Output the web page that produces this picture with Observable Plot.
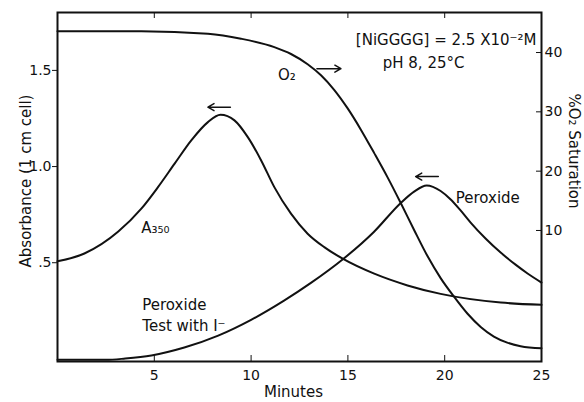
<!DOCTYPE html>
<html><head><meta charset="utf-8">
<script src="https://cdn.jsdelivr.net/npm/d3@7"></script>
<script src="https://cdn.jsdelivr.net/npm/@observablehq/plot@0.6"></script>
<style>body{margin:0;background:#fff}</style>
</head><body><div id="chart"></div>
<script>
// A350 absorbance (left axis)
const a350Minutes = [0, 1.39, 3.14, 4.33, 5.19, 6.05, 6.91, 7.77, 8.42, 9.14, 9.83, 10.52, 11.2, 12.06, 12.92, 13.78, 14.73, 16.36, 18.08, 19.79, 22.9, 25];
const a350Absorbance = [0.508, 0.548, 0.662, 0.781, 0.893, 1.015, 1.136, 1.231, 1.269, 1.240, 1.153, 1.032, 0.893, 0.755, 0.651, 0.581, 0.521, 0.443, 0.382, 0.338, 0.293, 0.281];
// Peroxide test with I- (left axis units)
const peroxideMinutes = [0, 2.5, 3.5, 4.85, 6.55, 8.3, 10.0, 11.7, 13.09, 14.74, 16.34, 17.73, 18.42, 19.07, 19.79, 20.31, 20.82, 21.34, 22.11, 22.89, 23.66, 24.28, 25];
const peroxideValue = [-0.005, -0.005, 0.002, 0.018, 0.059, 0.121, 0.203, 0.303, 0.395, 0.518, 0.660, 0.811, 0.870, 0.902, 0.873, 0.829, 0.772, 0.709, 0.626, 0.553, 0.490, 0.444, 0.397];
// O2 saturation (right axis, %)
const o2Minutes = [0, 4.33, 7.77, 9.48, 11.2, 12.06, 12.92, 13.61, 14.29, 14.98, 15.67, 16.36, 17.05, 17.73, 18.42, 19.11, 19.79, 20.48, 21.17, 21.86, 22.54, 23.23, 23.92, 25];
const o2Percent = [43.6, 43.6, 43.17, 42.33, 40.91, 39.75, 38.03, 36.17, 33.72, 30.62, 27.0, 23.04, 18.95, 14.62, 10.08, 5.68, 1.97, -1.16, -4.0, -6.26, -7.88, -8.9, -9.5, -9.86];

const minuteTicks = [5, 10, 15, 20, 25];
const absTicks = [0.5, 1.0, 1.5];
const absTickLabels = [".5", "1.0", "1.5"];
const o2Ticks = [10, 20, 30, 40];

// annotations (data coordinates)
const labels = [
  {x: 11.39, y: 1.487, text: "O₂"},
  {x: 4.33, y: 0.689, text: "A₃₅₀"},
  {x: 4.38, y: 0.236, text: "Peroxide\nTest with I⁻"},
  {x: 20.57, y: 0.845, text: "Peroxide"},
  {x: 15.41, y: 1.666, text: "[NiGGGG] = 2.5 X10⁻²M"},
  {x: 16.8, y: 1.55, text: "pH 8, 25°C"}
];
const arrows = [
  {x1: 8.93, x2: 7.77, y: 1.309},
  {x1: 13.4, x2: 14.64, y: 1.509},
  {x1: 19.67, x2: 18.5, y: 0.948}
];

// map % O2 onto the absorbance scale (right axis)
const toAbs = p => 0.3593 + 0.03084 * p;
const fromAbs = a => Math.round((a - 0.3593) / 0.03084);

const a350 = a350Minutes.map((t, i) => ({t, v: a350Absorbance[i]}));
const perox = peroxideMinutes.map((t, i) => ({t, v: peroxideValue[i]}));
const o2 = o2Minutes.map((t, i) => ({t, v: toAbs(o2Percent[i])}));

const font = "DejaVu Sans, sans-serif";
const ink = "#111";
const chart = Plot.plot({
  width: 584, height: 402,
  marginLeft: 57, marginRight: 43, marginTop: 12, marginBottom: 41,
  x: {domain: [0, 25]},
  y: {domain: [-0.0135, 1.801]},
  style: {fontFamily: font, fontSize: "14px", background: "#fff", color: ink},
  marks: [
    Plot.axisX(minuteTicks, {anchor: "bottom", tickSize: -6, tickPadding: 15, label: null, fontSize: 14}),
    Plot.axisX(minuteTicks.slice(0, 4), {anchor: "top", tickSize: -5, tickFormat: () => "", label: null}),
    Plot.axisY(absTicks, {anchor: "left", tickSize: 5, tickPadding: 1, tickFormat: d => absTickLabels[absTicks.indexOf(d)], label: null, fontSize: 14}),
    Plot.axisY(o2Ticks.map(toAbs), {anchor: "right", tickSize: -6, tickPadding: 9, tickFormat: d => String(fromAbs(d)), label: null, fontSize: 14}),
    Plot.frame({strokeWidth: 2, stroke: ink}),
    Plot.line(a350, {x: "t", y: "v", curve: "monotone-x", strokeWidth: 2, stroke: ink}),
    Plot.line(perox, {x: "t", y: "v", curve: "monotone-x", strokeWidth: 2, stroke: ink}),
    Plot.line(o2, {x: "t", y: "v", curve: "monotone-x", strokeWidth: 2, stroke: ink}),
    Plot.arrow(arrows, {x1: "x1", x2: "x2", y1: "y", y2: "y", headLength: 7, strokeWidth: 1.5, stroke: ink}),
    Plot.text(labels, {x: "x", y: "y", text: "text", textAnchor: "start", fontSize: 15, lineHeight: 1.45, fill: ink}),
    Plot.text(["Absorbance (1 cm cell)"], {frameAnchor: "left", textAnchor: "middle", dx: -31, dy: -6, rotate: -90, fontSize: 15, fill: ink}),
    Plot.text(["%O₂ Saturation"], {frameAnchor: "right", textAnchor: "middle", dx: 32, dy: -36, rotate: 90, fontSize: 15, fill: ink}),
    Plot.text(["Minutes"], {frameAnchor: "bottom", textAnchor: "middle", dx: -6, dy: 35, fontSize: 15, fill: ink})
  ]
});
document.getElementById("chart").appendChild(chart);
</script>
</body></html>
